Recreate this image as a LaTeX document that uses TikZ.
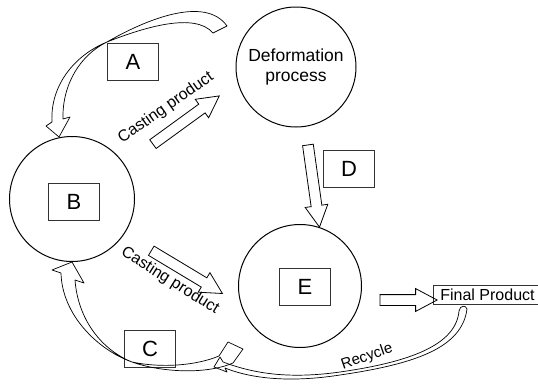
\documentclass[tikz,border=0pt]{standalone}
\usepackage{fontspec}
\setmainfont{Liberation Sans}
\usetikzlibrary{shapes.arrows}

\begin{document}
\begin{tikzpicture}[x=1pt, y=-1pt,
      cr/.style={draw, circle, line width=1pt, inner sep=0pt},
      bx/.style={draw=black!80, line width=0.7pt, minimum width=51pt, minimum height=37pt, inner sep=0pt, font=\fontsize{22}{24}\selectfont},
      fa/.style={draw, single arrow, line width=0.8pt, inner sep=5pt, single arrow head extend=6pt, single arrow tip angle=56, single arrow head indent=0pt},
      rb/.style={draw, line width=0.7pt, line join=round},
      lb/.style={font=\fontsize{16}{18}\selectfont, inner sep=0pt}]
    \useasboundingbox (0,0) rectangle (538,383);
    % stages
    \node[cr, minimum size=120pt, align=center, font=\fontsize{17.5}{20}\selectfont] (def) at (296,67) {Deformation\\process};
    \node[cr, minimum size=125pt] (cB) at (72,199) {};
    \node[cr, minimum size=123pt] (cE) at (300,286) {};
    % letter boxes
    \foreach \n/\x/\y in {A/133/62, B/74/202, C/150/349, D/349/169, E/305/287}
      \node[bx] (box\n) at (\x,\y) {\n};
    \node[draw=black!80, line width=0.7pt, minimum width=109pt, minimum height=19pt, inner sep=1pt, font=\fontsize{16}{18}\selectfont] (fp) at (487.5,295) {Final Product};
    % straight flows
    \foreach \x/\y/\r/\l [count=\i] in {182/123/36/82, 182.5/269.5/-31/83, 313/181/-82/83, 403.5/300/0/57}
      \node[fa, rotate=\r, minimum height=\l pt] (fl\i) at (\x,\y) {};
    \node[lb, rotate=35] (cp1) at (166,108) {Casting product};
    \node[lb, rotate=-32] (cp2) at (170,281) {Casting product};
    \node[lb, font=\fontsize{15}{17}\selectfont, rotate=19] (rec) at (367,357) {Recycle};
    % curved returns
    \draw[rb] (52,122) .. controls (50,85) and (75,55) .. (107,42) .. controls (145,20) and (205,-5) .. (227,26) -- (213,33) .. controls (195,12) and (145,27) .. (107,42) .. controls (80,55) and (62,85) .. (63,119) -- (70,117) -- (59,137) -- (46,126) -- cycle;
    \draw[rb] (61,273) .. controls (62,315) and (98,350) .. (132,362) .. controls (160,372) and (205,375) .. (233,363) -- (243,349) -- (228,342) -- (219,356) .. controls (195,366) and (160,368) .. (132,362) .. controls (102,350) and (78,320) .. (75,280) -- (84,283) -- (72,262) -- (52,270) -- cycle;
    \draw[rb] (459,311) .. controls (456,345) and (410,362) .. (340,372) .. controls (290,379) and (255,374) .. (223,362) -- (220,357) -- (214,367) -- (227,372) -- (225,368) .. controls (255,380) and (295,382) .. (340,375) .. controls (415,364) and (462,348) .. (467,309) .. controls (466,305) and (460,305) .. cycle;
  \end{tikzpicture}
\end{document}
